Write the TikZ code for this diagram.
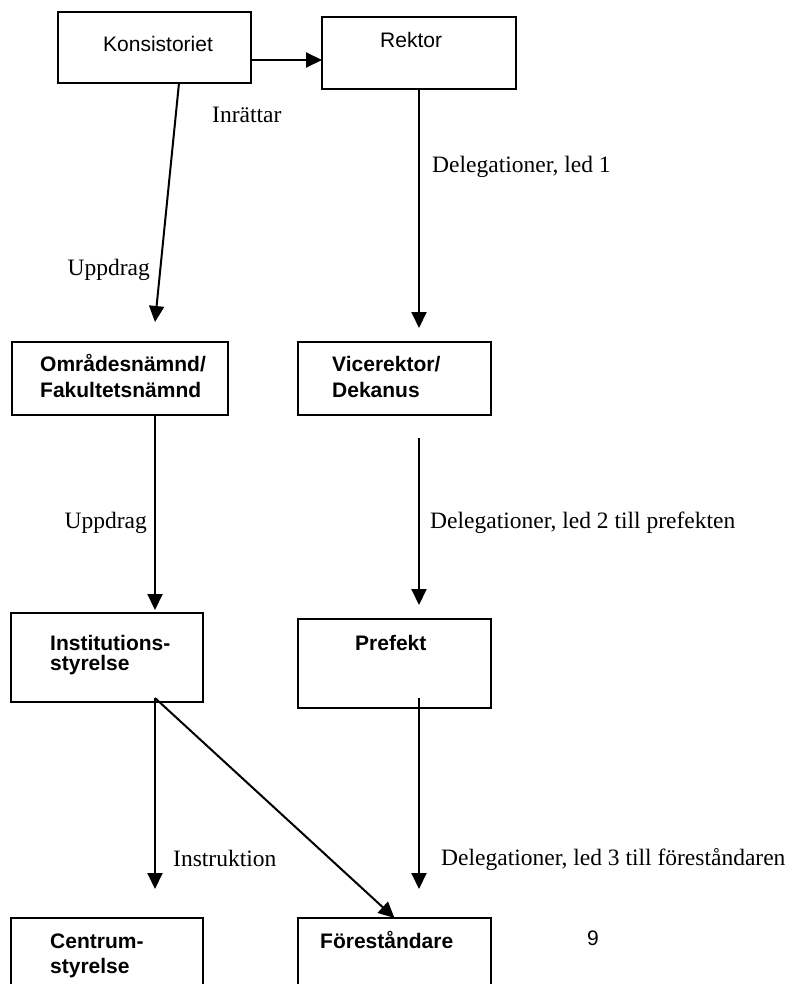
\documentclass[tikz,border=0pt]{standalone}
\usepackage{fontspec}
\setmainfont{Liberation Serif}
\setsansfont{Liberation Sans}
\usetikzlibrary{arrows.meta}
\begin{document}
\begin{tikzpicture}[x=1pt,y=-1pt,
  box/.style={draw, line width=2pt, inner sep=0pt, outer sep=0pt, anchor=north west},
  sanslbl/.style={font=\sffamily\fontsize{21}{25}\selectfont, anchor=base west, inner sep=0pt},
  boldlbl/.style={font=\sffamily\bfseries\fontsize{21}{25}\selectfont, anchor=base west, inner sep=0pt},
  edgelbl/.style={font=\rmfamily\fontsize{23.5}{28}\selectfont, anchor=base west, inner sep=0pt},
  conn/.style={line width=2pt, -{Triangle[length=16pt,width=15pt]}},
]
\useasboundingbox (0,0) rectangle (797,984);
\clip (0,0) rectangle (797,984);

% boxes
\node[box, minimum width=193pt, minimum height=71pt] (kons) at (58,12) {};
\node[box, minimum width=194pt, minimum height=72pt] (rektor) at (322,17) {};
\node[box, minimum width=216pt, minimum height=73pt] (omr) at (12,342) {};
\node[box, minimum width=193pt, minimum height=73pt] (vice) at (298,342) {};
\node[box, minimum width=192pt, minimum height=89pt] (inst) at (11,613) {};
\node[box, minimum width=193pt, minimum height=89pt] (pref) at (298,619) {};
\node[box, minimum width=192pt, minimum height=100pt] (centrum) at (11,918) {};
\node[box, minimum width=193pt, minimum height=100pt] (fore) at (298,918) {};

% box texts
\node[sanslbl] (tkons) at (103,52) {Konsistoriet};
\node[sanslbl] (trek) at (380,48) {Rektor};
\node[boldlbl] (tomra) at (40,371) {Områdesnämnd/};
\node[boldlbl] (tomrb) at (40,397) {Fakultetsnämnd};
\node[boldlbl] (tvicea) at (332,371) {Vicerektor/};
\node[boldlbl] (tviceb) at (332,397) {Dekanus};
\node[boldlbl] (tinsta) at (50,650) {Institutions-};
\node[boldlbl] (tinstb) at (50,670) {styrelse};
\node[boldlbl] (tpref) at (355,650) {Prefekt};
\node[boldlbl] (tcena) at (50,948) {Centrum-};
\node[boldlbl] (tcenb) at (50,973) {styrelse};
\node[boldlbl] (tfore) at (320,948) {Föreståndare};
\node[sanslbl] (tnine) at (587,945) {9};

% connector points
\coordinate (k1) at ([yshift=-12.5pt]kons.east);
\coordinate (k2) at ([xshift=24.5pt]kons.south);
\coordinate (k3) at (155,322);
\coordinate (r2) at (419,328);
\coordinate (o1) at ([xshift=35pt]omr.south);
\coordinate (o2) at (155,610);
\coordinate (v1) at (419,438);
\coordinate (v2) at (419,605);
\coordinate (i1) at (155,698);
\coordinate (i2) at (155,889);
\coordinate (p1) at (419,698);
\coordinate (p2) at (419,889);

% connectors
\draw[conn] (k1) -- (k1 -| rektor.west);
\draw[conn] (k2) -- (k3);
\draw[conn] (rektor.south) -- (r2);
\draw[conn] (o1) -- (o2);
\draw[conn] (v1) -- (v2);
\draw[conn] (i1) -- (i2);
\draw[conn] (i1) -- (fore.north);
\draw[conn] (p1) -- (p2);

% connector labels
\node[edgelbl] (linr) at (212,123) {Inrättar};
\node[edgelbl] (ldel1) at (432,173) {Delegationer, led 1};
\node[edgelbl, anchor=base east] (lupp1) at (150,275) {Uppdrag};
\node[edgelbl, anchor=base east] (lupp2) at (147,528) {Uppdrag};
\node[edgelbl] (ldel2) at (430,528) {Delegationer, led 2 till prefekten};
\node[edgelbl] (linstr) at (173,866) {Instruktion};
\node[edgelbl] (ldel3) at (441,865) {Delegationer, led 3 till föreståndaren};
\end{tikzpicture}
\end{document}
